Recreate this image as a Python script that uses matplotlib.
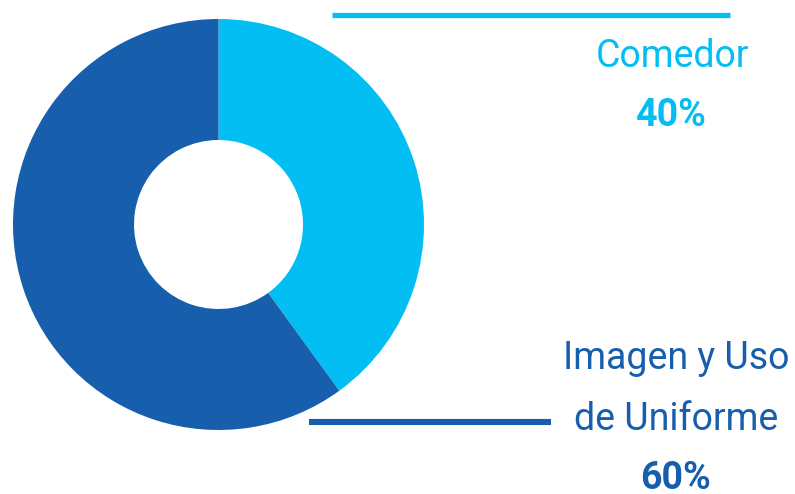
import matplotlib.pyplot as plt

# data
categories = ['Comedor', 'Imagen y Uso\nde Uniforme']
values = [40, 60]
pct_labels = ['40%', '60%']
colors = ['#02BEF2', '#175FAC']

plt.rcParams['font.family'] = ['Roboto', 'DejaVu Sans']

W, H = 795, 494
fig = plt.figure(figsize=(W / 100, H / 100), dpi=100)
ax = fig.add_axes([0, 0, 1, 1])

# donut
ax.pie(values, colors=colors, startangle=90, counterclock=False,
       center=(218.5, H - 224.5), radius=205.5, frame=True,
       wedgeprops=dict(width=121, edgecolor='none', linewidth=0))
ax.set_xlim(0, W)
ax.set_ylim(0, H)
ax.set_aspect('equal')
ax.axis('off')

# leader bars
ax.plot([332, 730], [H - 14.5, H - 14.5], color=colors[0], lw=3.8, solid_capstyle='butt')
ax.plot([309, 551], [H - 422.5, H - 422.5], color=colors[1], lw=4.4, solid_capstyle='butt')

# labels
fs = 27
ax.text(672, H - 67, categories[0], color=colors[0], fontsize=fs, ha='center', va='baseline')
ax.text(671, H - 126, pct_labels[0], color=colors[0], fontsize=fs, fontweight='bold',
        ha='center', va='baseline')
line1, line2 = categories[1].split('\n')
ax.text(676, H - 369, line1, color=colors[1], fontsize=fs, ha='center', va='baseline')
ax.text(676, H - 430, line2, color=colors[1], fontsize=fs, ha='center', va='baseline')
ax.text(675, H - 489, pct_labels[1], color=colors[1], fontsize=fs, fontweight='bold',
        ha='center', va='baseline')

fig.savefig('out.png', dpi=100, facecolor='white')
